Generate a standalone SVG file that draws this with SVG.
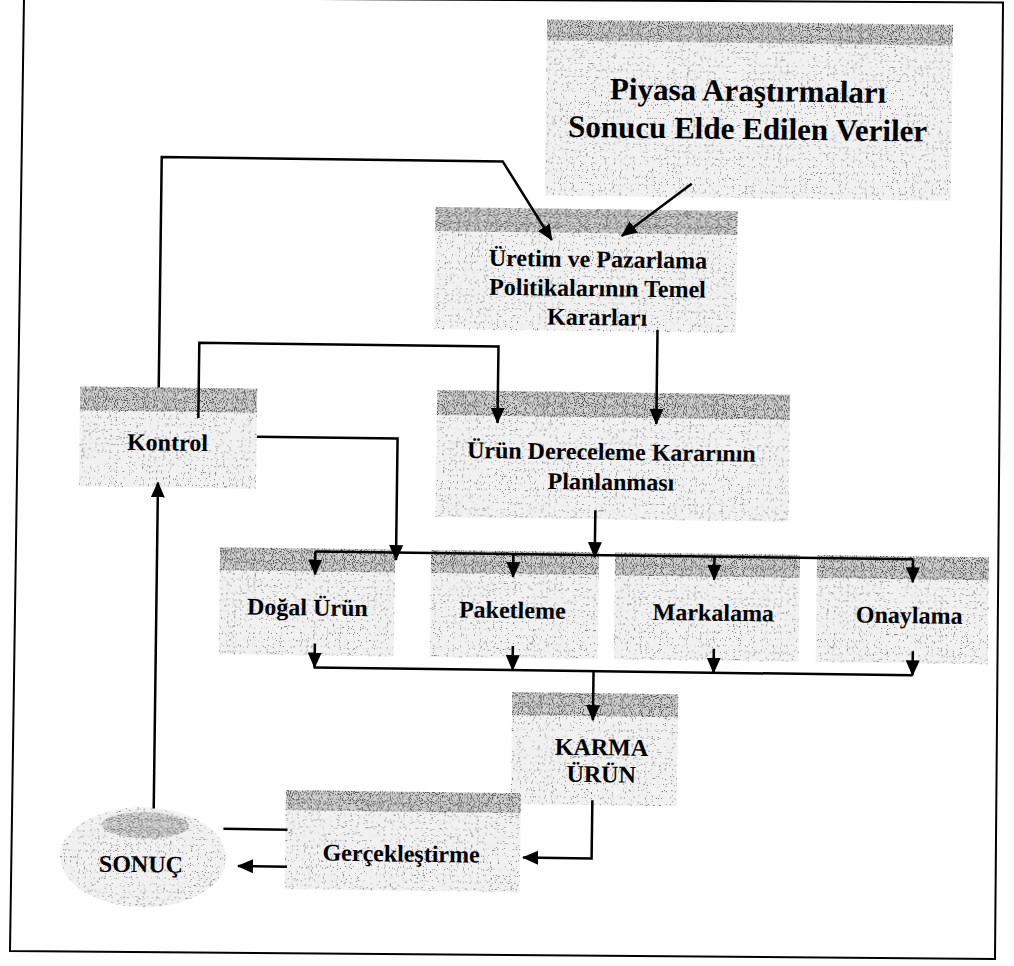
<svg xmlns="http://www.w3.org/2000/svg" width="1014" height="966" viewBox="0 0 1014 966">
<defs>
<style>
.body{fill:#f1f1f1}
.band{fill:#d2d2d2}
.t{font-family:"Liberation Serif","Times New Roman",serif;font-weight:bold;font-size:24px;fill:#000;text-anchor:middle}
.big{font-size:31px}
.ln{fill:none;stroke:#000;stroke-width:2.5}
.frame{fill:none;stroke:#000;stroke-width:2}
</style>
<marker id="ah" markerUnits="userSpaceOnUse" markerWidth="16" markerHeight="16" viewBox="0 0 16 16" refX="15" refY="8" orient="auto">
<path d="M0,1 L16,8 L0,15 z" fill="#000"/>
</marker>
<filter id="grain" x="0" y="0" width="1" height="1" color-interpolation-filters="sRGB">
<feTurbulence type="fractalNoise" baseFrequency="0.85" numOctaves="1" seed="7" result="t"/>
<feColorMatrix in="t" type="matrix" values="0 0 0 0 0.45 0 0 0 0 0.45 0 0 0 0 0.45 0 0 0 -14 4.9" result="dots"/>
<feComposite in="dots" in2="SourceAlpha" operator="in" result="d"/>
<feMerge><feMergeNode in="SourceGraphic"/><feMergeNode in="d"/></feMerge>
</filter>
<filter id="grainD" x="0" y="0" width="1" height="1" color-interpolation-filters="sRGB">
<feTurbulence type="fractalNoise" baseFrequency="0.9" numOctaves="1" seed="3" result="t"/>
<feColorMatrix in="t" type="matrix" values="0 0 0 0 0.3 0 0 0 0 0.3 0 0 0 0 0.3 0 0 0 -9 4.3" result="dots"/>
<feComposite in="dots" in2="SourceAlpha" operator="in" result="d"/>
<feMerge><feMergeNode in="SourceGraphic"/><feMergeNode in="d"/></feMerge>
</filter>
</defs>
<rect width="1014" height="966" fill="#fff"/>
<path class="frame" d="M24,-2.5 L1003,2.5 L995,959 L10,951 Z"/>
<g transform="rotate(0.75 507 483)">

<g id="piyasa">
<rect class="body" filter="url(#grain)" x="541" y="19" width="406" height="176"/>
<rect class="band" filter="url(#grainD)" x="541" y="19" width="406" height="21"/>
<text class="t big" x="743" y="98">Piyasa Araştırmaları</text>
<text class="t big" x="743" y="136">Sonucu Elde Edilen Veriler</text>
</g>

<g id="uretim">
<rect class="body" filter="url(#grain)" x="432" y="208" width="302" height="122"/>
<rect class="band" filter="url(#grainD)" x="432" y="208" width="302" height="24"/>
<text class="t" x="595" y="266">Üretim ve Pazarlama</text>
<text class="t" x="595" y="295">Politikalarının Temel</text>
<text class="t" x="595" y="324">Kararları</text>
</g>

<g id="kontrol">
<rect class="body" filter="url(#grain)" x="79" y="392" width="177" height="100"/>
<rect class="band" filter="url(#grainD)" x="79" y="392" width="177" height="24"/>
<text class="t" x="167" y="455">Kontrol</text>
</g>

<g id="dereceleme">
<rect class="body" filter="url(#grain)" x="436" y="391" width="353" height="127"/>
<rect class="band" filter="url(#grainD)" x="436" y="391" width="353" height="25"/>
<text class="t" x="611" y="458.5">Ürün Dereceleme Kararının</text>
<text class="t" x="611" y="488.5">Planlanması</text>
</g>

<g id="dogal">
<rect class="body" filter="url(#grain)" x="221" y="551" width="175" height="107"/>
<rect class="band" filter="url(#grainD)" x="221" y="551" width="175" height="23"/>
<text class="t" x="309" y="618">Doğal Ürün</text>
</g>

<g id="paketleme">
<rect class="body" filter="url(#grain)" x="432" y="551" width="168" height="107"/>
<rect class="band" filter="url(#grainD)" x="432" y="551" width="168" height="23"/>
<text class="t" x="514" y="618">Paketleme</text>
</g>

<g id="markalama">
<rect class="body" filter="url(#grain)" x="616" y="551" width="185" height="107"/>
<rect class="band" filter="url(#grainD)" x="616" y="551" width="185" height="23"/>
<text class="t" x="715" y="618">Markalama</text>
</g>

<g id="onaylama">
<rect class="body" filter="url(#grain)" x="818" y="551" width="172" height="107"/>
<rect class="band" filter="url(#grainD)" x="818" y="551" width="172" height="23"/>
<text class="t" x="911" y="618">Onaylama</text>
</g>

<g id="karma">
<rect class="body" filter="url(#grain)" x="515" y="692" width="166" height="112"/>
<rect class="band" filter="url(#grainD)" x="515" y="692" width="166" height="23"/>
<text class="t" x="605" y="754">KARMA</text>
<text class="t" x="605" y="781">ÜRÜN</text>
</g>

<g id="gerceklestirme">
<rect class="body" filter="url(#grain)" x="290" y="793" width="235" height="99"/>
<rect class="band" filter="url(#grainD)" x="290" y="793" width="235" height="20"/>
<text class="t" x="406" y="863">Gerçekleştirme</text>
</g>

<g id="sonuc">
<ellipse class="body" filter="url(#grain)" cx="148" cy="862" rx="83" ry="50"/>
<ellipse class="band" filter="url(#grainD)" cx="150" cy="830" rx="44" ry="13" opacity="0.8"/>
<text class="t" x="146" y="877">SONUÇ</text>
</g>

<g id="connectors">
<path class="ln" d="M157.5,392 V161.5 H498.5 L548.6,239.4" marker-end="url(#ah)"/>
<path class="ln" d="M687.8,181.4 L618.5,234.4" marker-end="url(#ah)"/>
<path class="ln" d="M655.5,328 V422" marker-end="url(#ah)"/>
<path class="ln" d="M197.5,422 V346.7 H496.7 V423" marker-end="url(#ah)"/>
<path class="ln" d="M256.5,440 H397 V561.5" marker-end="url(#ah)"/>
<path class="ln" d="M595.7,509 V556" marker-end="url(#ah)"/>
<path class="ln" d="M316,554 H914"/>
<path class="ln" d="M316.3,554 V577" marker-end="url(#ah)"/>
<path class="ln" d="M514.3,554 V577" marker-end="url(#ah)"/>
<path class="ln" d="M715.4,554 V577" marker-end="url(#ah)"/>
<path class="ln" d="M914,554 V577" marker-end="url(#ah)"/>
<path class="ln" d="M317,646 V670" marker-end="url(#ah)"/>
<path class="ln" d="M515,646 V670" marker-end="url(#ah)"/>
<path class="ln" d="M716,646 V670" marker-end="url(#ah)"/>
<path class="ln" d="M915,646 V670" marker-end="url(#ah)"/>
<path class="ln" d="M316,670 H915"/>
<path class="ln" d="M596,670 V719" marker-end="url(#ah)"/>
<path class="ln" d="M596.5,799 V857.3 H528" marker-end="url(#ah)"/>
<path class="ln" d="M228,832.5 H292"/>
<path class="ln" d="M292,869.5 H243" marker-end="url(#ah)"/>
<path class="ln" d="M158,813 V487" marker-end="url(#ah)"/>
</g>
</g>
</svg>
